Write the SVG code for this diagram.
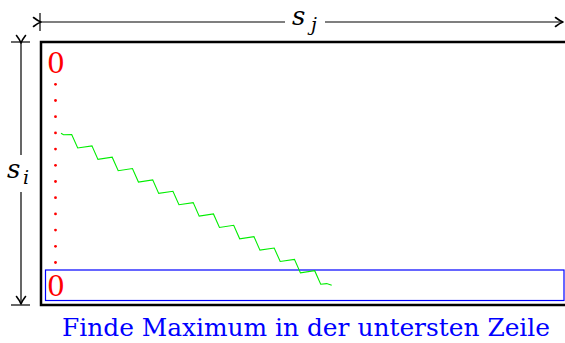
<svg xmlns="http://www.w3.org/2000/svg" width="565" height="343" viewBox="0 0 565 343">
<defs>
<style>
.dim{stroke:#000;stroke-width:1.2;fill:none}
.ah{stroke:#000;stroke-width:1.6;fill:none;stroke-linecap:round;stroke-linejoin:round}
.lbl{font-family:'DejaVu Serif',serif;font-style:italic;fill:#000}
.zero{font-family:'DejaVu Serif',serif;font-size:28px;fill:#ff0000}
.cap{font-family:'DejaVu Serif',serif;font-size:24px;fill:#0000ff}
.dot{fill:#ff0000}
</style>
<marker id="arr" viewBox="-9 -6 11 12" markerWidth="11" markerHeight="12" refX="0" refY="0" orient="auto" markerUnits="userSpaceOnUse">
<path d="M-7.5,-4.5 Q-3,-1 0,0 Q-3,1 -7.5,4.5" class="ah"/>
</marker>
</defs>
<g id="dimension-sj">
<line class="dim" x1="40" y1="13" x2="40" y2="31"/>
<line class="dim" x1="41" y1="22" x2="285" y2="22" marker-start="url(#arr)"/>
<line class="dim" x1="325" y1="22" x2="563" y2="22" marker-end="url(#arr)"/>
<text class="lbl" x="292" y="25" font-size="26">s</text>
<text class="lbl" x="311" y="31" font-size="19">j</text>
</g>
<g id="dimension-si">
<line class="dim" x1="11" y1="42" x2="30" y2="42"/>
<line class="dim" x1="11" y1="305" x2="30" y2="305"/>
<line class="dim" x1="21" y1="43" x2="21" y2="155" marker-start="url(#arr)"/>
<line class="dim" x1="21" y1="192" x2="21" y2="304" marker-end="url(#arr)"/>
<text class="lbl" x="7" y="178" font-size="26">s</text>
<text class="lbl" x="23" y="184" font-size="19">i</text>
</g>
<g id="matrix">
<rect x="41" y="42" width="540" height="263" fill="none" stroke="#000" stroke-width="2.5"/>
</g>
<g id="row-last">
<rect x="45.5" y="270" width="518.5" height="30.5" fill="none" stroke="#0000ff" stroke-width="1.2"/>
</g>
<g id="column-zero">
<text class="zero" x="47" y="73">0</text>
<text class="zero" x="47" y="296">0</text>
<g class="dot">
<circle cx="55.5" cy="84.3" r="1.4"/>
<circle cx="55.5" cy="100.5" r="1.4"/>
<circle cx="55.5" cy="116.7" r="1.4"/>
<circle cx="55.5" cy="132.9" r="1.4"/>
<circle cx="55.5" cy="149.1" r="1.4"/>
<circle cx="55.5" cy="165.3" r="1.4"/>
<circle cx="55.5" cy="181.5" r="1.4"/>
<circle cx="55.5" cy="197.7" r="1.4"/>
<circle cx="55.5" cy="213.9" r="1.4"/>
<circle cx="55.5" cy="230.1" r="1.4"/>
<circle cx="55.5" cy="246.3" r="1.4"/>
<circle cx="55.5" cy="262.5" r="1.4"/>
</g>
</g>
<g id="path">
<polyline fill="none" stroke="#00ee00" stroke-width="1.1" stroke-linejoin="miter" points="61,133.3 63.5,134.8 71.7,134.5 77.7,148 91.95,145.85 97.95,159.35 112.2,157.2 118.2,170.7 132.45,168.55 138.45,182.05 152.7,179.9 158.7,193.4 172.95,191.25 178.95,204.75 193.2,202.6 199.2,216.1 213.45,213.95 219.45,227.45 233.7,225.3 239.7,238.8 253.95,236.65 259.95,250.15 274.2,248 280.2,261.5 294.45,259.35 300.45,272.85 314.7,270.7 320.7,284.2 326.7,283.6 331.7,285.3"/>
</g>
<g id="caption">
<text class="cap" x="62" y="336" textLength="488" lengthAdjust="spacingAndGlyphs">Finde Maximum in der untersten Zeile</text>
</g>
</svg>
